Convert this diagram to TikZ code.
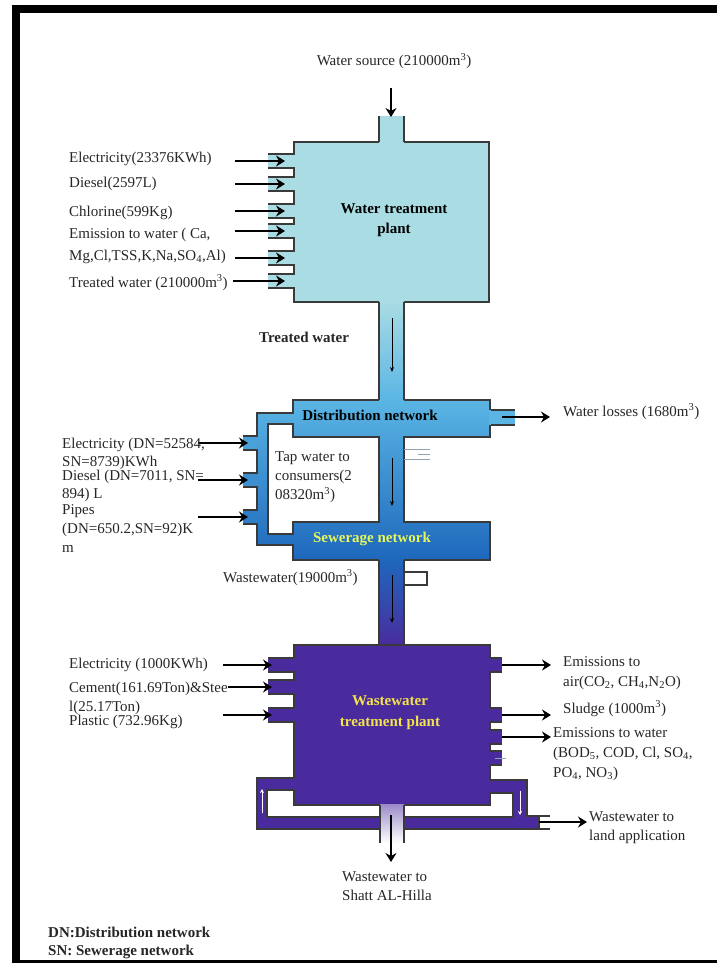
\documentclass[tikz,border=0pt]{standalone}
\usepackage{fontspec}
\setmainfont{Liberation Serif}
\usetikzlibrary{arrows.meta}
\definecolor{wtpblue}{HTML}{A9DCE3}
\definecolor{distblue}{HTML}{5AB5E4}
\definecolor{sewblue}{HTML}{1E68BC}
\definecolor{wwpurple}{HTML}{4A2B9D}
\definecolor{edgegray}{HTML}{3A3A3A}
\definecolor{stubgray}{HTML}{8FA3B3}
\definecolor{labeldark}{HTML}{262626}
\definecolor{sewtext}{HTML}{E6F55C}
\definecolor{wwtext}{HTML}{F2E24C}

\begin{document}
\begin{tikzpicture}[
    x=1pt, y=-1pt,
    edge/.style={draw=edgegray, line width=1.2pt},
    stubline/.style={stubgray, line width=1pt},
    flow/.style={-{Stealth[length=9pt, width=11pt, inset=3pt]}, line width=2.4pt, black},
    pipeflow/.style={-{Stealth[length=5pt, width=4pt]}, line width=0.9pt, black},
    backflow/.style={-{Stealth[length=4pt, width=4pt]}, line width=0.9pt, white},
    label/.style={inner sep=0pt, anchor=base west, text=labeldark, font=\fontsize{15}{19}\selectfont},
    block/.style={inner sep=0pt, anchor=north west, align=left, text=labeldark},
    title/.style={inner sep=0pt, align=center, font=\fontsize{15}{20}\selectfont\bfseries}
]

\pgfmathsetmacro{\PipeL}{379}
\pgfmathsetmacro{\PipeR}{404}
\pgfmathsetmacro{\PipeMid}{392}

\useasboundingbox (0,0) rectangle (716,963);

% Frame
\draw[line width=8pt] (16,9) rectangle (726,964);

% Water treatment plant
\filldraw[edge, fill=wtpblue] (294,142) rectangle (489,302);
\foreach \ty in {161,184,211,231,258,281} {
    \fill[wtpblue] (268,\ty-7) rectangle (295,\ty+7);
    \draw[edge] (294.6,\ty-7) -- (268,\ty-7) (268,\ty+7) -- (294.6,\ty+7);
}
\fill[wtpblue] (\PipeL,116) rectangle (\PipeR,142.7);
\draw[edge] (\PipeL,116) -- (\PipeL,142) (\PipeR,116) -- (\PipeR,142);
\node[title] (wtp) at (394,220) {Water treatment\\plant};

% Distribution and sewerage networks
\path[even odd rule, top color=distblue, bottom color=sewblue, draw=edgegray, line width=1.2pt]
    (293,400) -- (490,400) -- (490,437) -- (\PipeR,437) -- (\PipeR,522) -- (490,522)
    -- (490,560) -- (293,560) -- (293,545) -- (257,545) -- (257,413) -- (293,413) -- cycle
    (268,424) -- (293,424) -- (293,437) -- (\PipeL,437) -- (\PipeL,522) -- (293,522)
    -- (293,534) -- (268,534) -- cycle;
\foreach \ty/\tp in {443/27,480/50,517/73} {
    \fill[sewblue!\tp!distblue] (243,\ty-7) rectangle (258,\ty+7);
    \draw[edge] (257.6,\ty-7) -- (243,\ty-7) (243,\ty+7) -- (257.6,\ty+7);
}
\fill[distblue] (489,410) rectangle (515,425);
\draw[edge] (490.6,410) -- (515,410) (490.6,425) -- (515,425);
\draw[stubline] (\PipeR,449) -- (430,449) (418,454) -- (430,454) (\PipeR,459) -- (430,459);
\node[title] (dist) at (370,415) {Distribution network};
\node[title, text=sewtext] (sew) at (372,539) {Sewerage network};

% Pipes between the blocks
\shade[top color=wtpblue, bottom color=distblue] (\PipeL,301.3) rectangle (\PipeR,400.7);
\draw[edge] (\PipeL,302) -- (\PipeL,400) (\PipeR,302) -- (\PipeR,400);
\shade[top color=sewblue, bottom color=wwpurple] (\PipeL,559.3) rectangle (\PipeR,645.7);
\draw[edge] (\PipeL,560) -- (\PipeL,645) (\PipeR,560) -- (\PipeR,645);
\draw[edge] (\PipeR,572) -- (427,572) -- (427,585) -- (\PipeR,585);

% Wastewater treatment plant with return loop
\path[even odd rule, fill=wwpurple, draw=edgegray, line width=1.2pt]
    (294,645) -- (490,645) -- (490,780) -- (527,780) -- (527,816) -- (539,816)
    -- (539,829) -- (257,829) -- (257,778) -- (294,778) -- cycle
    (267,790) -- (294,790) -- (294,805) -- (490,805) -- (490,793) -- (513,793)
    -- (513,817) -- (267,817) -- cycle;
\foreach \ty in {665,687,715} {
    \fill[wwpurple] (268,\ty-7) rectangle (295,\ty+7);
    \draw[edge] (294.6,\ty-7) -- (268,\ty-7) (268,\ty+7) -- (294.6,\ty+7);
}
\foreach \ty in {665,715,737,758} {
    \fill[wwpurple] (489,\ty-7) rectangle (502,\ty+7);
    \draw[edge] (489.4,\ty-7) -- (502,\ty-7) (502,\ty+7) -- (489.4,\ty+7);
}
\draw[stubline] (495,758) -- (506,758);
\draw[edge] (539,816) -- (550,816) (539,829) -- (550,829);
\shade[top color=wwpurple!55!white, bottom color=white] (380,804.3) rectangle (\PipeR,843);
\draw[edge] (380,805) -- (380,843) (\PipeR,805) -- (\PipeR,843);
\draw[backflow] (262,813) -- (262,789);
\draw[backflow] (520,791) -- (520,815);
\node[title, text=wwtext, font=\fontsize{15}{21}\selectfont\bfseries] (wwtp) at (390,712.5) {Wastewater\\treatment plant};

% Flow inside the pipes
\draw[pipeflow] (\PipeMid,318) -- (\PipeMid,372);
\draw[pipeflow] (\PipeMid,458) -- (\PipeMid,506);
\draw[pipeflow] (\PipeMid,575) -- (\PipeMid,623);

% Inputs and outputs
\draw[flow] (391,88) -- (391,117);
\foreach \ty in {161,184,211,231,258} {
    \draw[flow] (235,\ty) -- (285,\ty);
}
\draw[flow] (233,281) -- (285,281);
\foreach \ty in {443,480,517} {
    \draw[flow] (198,\ty) -- (248,\ty);
}
\draw[flow] (502,417) -- (550,417);
\draw[flow] (223,665) -- (272,665);
\draw[flow] (228,687) -- (272,687);
\draw[flow] (223,715) -- (272,715);
\foreach \ty in {665,715,737} {
    \draw[flow] (502,\ty) -- (551,\ty);
}
\draw[flow] (539,822) -- (587,822);
\draw[flow] (391,815) -- (391,862);

% Labels
\node[label, anchor=base] (src) at (394,66) {Water source (210000m\textsuperscript{3})};
\node[label] (elec1) at (69,162) {Electricity(23376KWh)};
\node[label] (diesel1) at (69,187) {Diesel(2597L)};
\node[label] (chlor) at (69,216) {Chlorine(599Kg)};
\node[block, font=\fontsize{15}{22}\selectfont] (emis1) at (69,227.6) {Emission to water ( Ca,\\Mg,Cl,TSS,K,Na,SO\textsubscript{4},Al)};
\node[label] (treated1) at (69,287) {Treated water (210000m\textsuperscript{3})};
\node[label, font=\fontsize{15}{19}\selectfont\bfseries] (treated2) at (259,342) {Treated water};
\node[block, font=\fontsize{15}{19}\selectfont] (tap) at (275,451.6) {Tap water to\\consumers(2\\08320m\textsuperscript{3})};
\node[block, font=\fontsize{15}{18}\selectfont] (elec2) at (62,437.6) {Electricity (DN=52584,\\SN=8739)KWh};
\node[block, font=\fontsize{15}{18}\selectfont] (diesel2) at (62,469.6) {Diesel (DN=7011, SN=\\894) L};
\node[block, font=\fontsize{15}{19}\selectfont] (pipes) at (62,504.6) {Pipes\\(DN=650.2,SN=92)K\\m};
\node[label] (loss) at (563,416) {Water losses (1680m\textsuperscript{3})};
\node[label] (wwin) at (223,582) {Wastewater(19000m\textsuperscript{3})};
\node[label] (elec3) at (69,668) {Electricity (1000KWh)};
\node[block, font=\fontsize{15}{19}\selectfont] (cement) at (69,681.6) {Cement(161.69Ton)\&Stee\\l(25.17Ton)};
\node[label] (plastic) at (69,725) {Plastic (732.96Kg)};
\node[block, font=\fontsize{15}{20}\selectfont] (air) at (563,656.6) {Emissions to\\air(CO\textsubscript{2}, CH\textsubscript{4},N\textsubscript{2}O)};
\node[label] (sludge) at (563,713) {Sludge (1000m\textsuperscript{3})};
\node[block, font=\fontsize{15}{20}\selectfont] (emis2) at (553,727.6) {Emissions to water\\(BOD\textsubscript{5}, COD, Cl, SO\textsubscript{4},\\PO\textsubscript{4}, NO\textsubscript{3})};
\node[block, font=\fontsize{15}{19}\selectfont] (land) at (589,811.6) {Wastewater to\\land application};
\node[block, font=\fontsize{15}{19}\selectfont] (river) at (342,871.6) {Wastewater to\\Shatt AL-Hilla};
\node[block, font=\fontsize{15}{18}\selectfont\bfseries] (legend) at (48,926.6) {DN:Distribution network\\SN: Sewerage network};

\end{tikzpicture}
\end{document}
